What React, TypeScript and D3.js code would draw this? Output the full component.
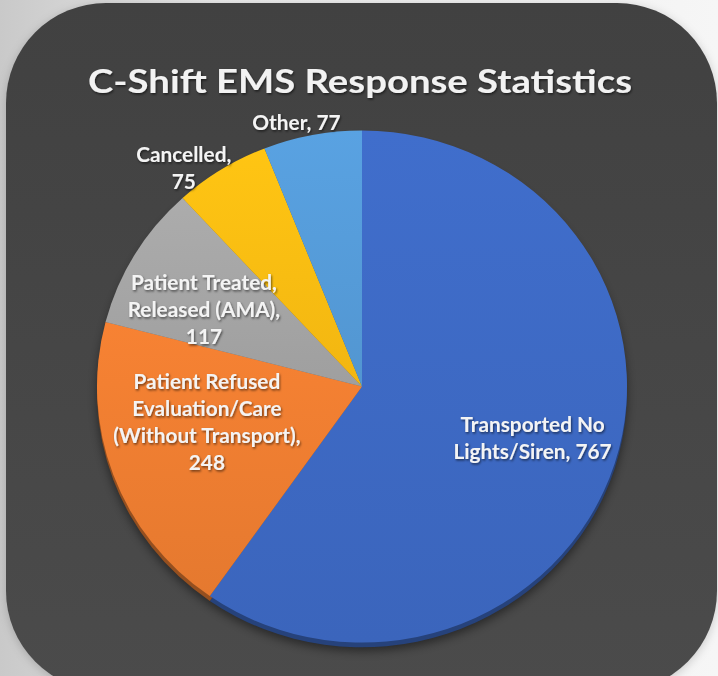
import React from "react";
import * as d3 from "d3";

const categories = [
  "Transported No Lights/Siren",
  "Patient Refused Evaluation/Care (Without Transport)",
  "Patient Treated, Released (AMA)",
  "Cancelled",
  "Other",
];
const values = [767, 248, 117, 75, 77];
const labelLines = [
  ["Transported No", "Lights/Siren, 767"],
  ["Patient Refused", "Evaluation/Care", "(Without Transport),", "248"],
  ["Patient Treated,", "Released (AMA),", "117"],
  ["Cancelled,", "75"],
  ["Other, 77"],
];
const colors = ["#3d69c3", "#ed7d31", "#a5a5a5", "#fbbd12", "#559bd9"];
const title = "C-Shift EMS Response Statistics";

// label layout: radius (px from centre) and angle offset (deg)
const labelPlace = [
  { r: 178, da: -0.9 },
  { r: 159, da: 7.5 },
  { r: 176, da: -4.9 },
  { r: 282, da: -7.1 },
  { r: 273, da: -3.1 },
];

const W = 718;
const H = 676;
const cx = 362;
const cy = 386.5;
const R = 265;
const RY = 256;

export default function App() {
  const data = categories.map((c, i) => ({ c, v: values[i], i }));
  const pie = d3
    .pie<any>()
    .sort(null)
    .value((d) => d.v)
    .startAngle(0)
    .endAngle(2 * Math.PI);
  const arcs = pie(data);
  const arc = d3.arc<any>().innerRadius(0).outerRadius(R);
  const lineH = 27;
  const sy = RY / R;

  return (
    <svg
      width={W}
      height={H}
      style={{ position: "absolute", left: 0, top: 0, display: "block" }}
    >
      <defs>
        <linearGradient id="outer" x1="0" y1="0" x2="1" y2="0">
          <stop offset="0" stopColor="#c9c9c9" />
          <stop offset="0.3" stopColor="#e9e9e9" />
          <stop offset="1" stopColor="#f6f6f6" />
        </linearGradient>
        <linearGradient id="panel" x1="0" y1="0" x2="0" y2="1">
          <stop offset="0" stopColor="#414141" />
          <stop offset="1" stopColor="#4b4b4b" />
        </linearGradient>
        <filter id="shadow" x="-20%" y="-20%" width="140%" height="140%">
          <feGaussianBlur stdDeviation="5" />
        </filter>
        <filter id="tshadow" x="-10%" y="-30%" width="120%" height="160%">
          <feDropShadow dx="1" dy="1.5" stdDeviation="1" floodColor="#000" floodOpacity="0.55" />
        </filter>
        {colors.map((col, i) => (
          <linearGradient key={i} id={`g${i}`} x1="0" y1="0" x2="0" y2="1">
            <stop offset="0" stopColor={d3.color(col)!.brighter(0.12).formatHex()} />
            <stop offset="1" stopColor={d3.color(col)!.darker(0.1).formatHex()} />
          </linearGradient>
        ))}
      </defs>
      <rect x={0} y={0} width={W} height={H} fill="url(#outer)" />
      <rect x={6} y={5} width={711} height={688} rx={100} ry={100} fill="#00000030" filter="url(#shadow)" />
      <rect x={6} y={3} width={711} height={688} rx={100} ry={100} fill="url(#panel)" />

      <text
        x={360}
        y={93}
        textAnchor="middle"
        fontFamily="Lato, 'Open Sans', sans-serif"
        fontWeight={700}
        fontSize={33}
        fill="#f2f2f2"
        textLength={544}
        lengthAdjust="spacingAndGlyphs"
        filter="url(#tshadow)"
      >
        {title}
      </text>

      <g transform={`translate(${cx},${cy})`}>
        <g transform={`scale(1,${sy})`}>
          <circle cx={0} cy={9} r={R} fill="#000" opacity={0.45} filter="url(#shadow)" />
          <g transform="translate(0,5)">
            {arcs.map((a, i) => (
              <path key={i} d={arc(a) || ""} fill={d3.color(colors[i])!.darker(1.3).formatHex()} />
            ))}
          </g>
          {arcs.map((a, i) => (
            <path key={i} d={arc(a) || ""} fill={`url(#g${i})`} />
          ))}
        </g>
        {arcs.map((a, i) => {
          const mid = (a.startAngle + a.endAngle) / 2 + (labelPlace[i].da * Math.PI) / 180;
          const r = labelPlace[i].r;
          const x = Math.sin(mid) * r;
          const y = -Math.cos(mid) * r;
          const lines = labelLines[i];
          const y0 = y - ((lines.length - 1) * lineH) / 2;
          return (
            <text
              key={i}
              textAnchor="middle"
              fontFamily="Lato, 'Open Sans', sans-serif"
              fontWeight={700}
              fontSize={20.8}
              fill="#f4f4f4"
              filter="url(#tshadow)"
            >
              {lines.map((l, j) => (
                <tspan key={j} x={x} y={y0 + j * lineH + 8}>
                  {l}
                </tspan>
              ))}
            </text>
          );
        })}
      </g>
    </svg>
  );
}
